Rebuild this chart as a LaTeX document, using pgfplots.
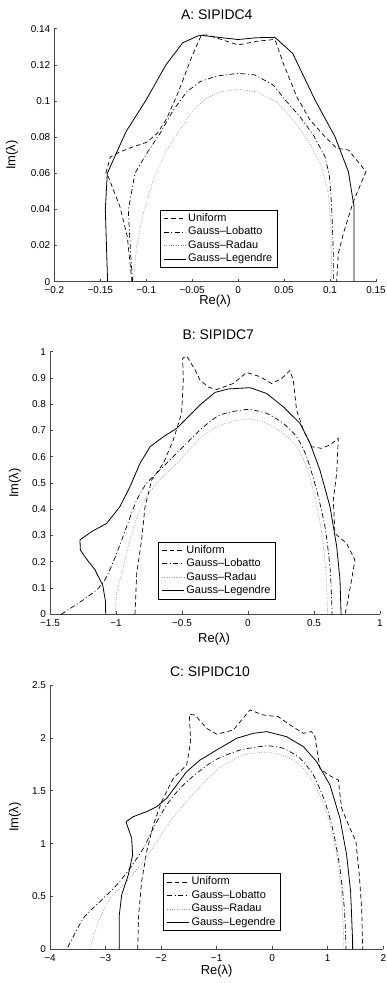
\documentclass[border=0pt]{standalone}
\usepackage{pgfplots}
\pgfplotsset{compat=1.18}
\usepackage{fontspec}
\setmainfont{Liberation Sans}
\definecolor{axgray}{RGB}{70,70,70}
\definecolor{radau}{RGB}{150,150,150}

\pgfplotsset{
  panel/.style={
    scale only axis, anchor=south west,
    axis x line*=bottom, axis y line*=left,
    tick align=inside, major tick length=3bp,
    axis line style={axgray, line width=0.7bp},
    every tick/.style={axgray, line width=0.6bp},
    tick label style={font=\fontsize{10}{11}\selectfont},
    xticklabel style={yshift=-1.5bp},
    yticklabel style={xshift=-0.5bp},
    xlabel={Re(λ)}, ylabel={Im(λ)},
    scaled ticks=false,
    legend cell align=left,
    legend image code/.code={\draw[##1] (0bp,0bp) -- (22bp,0bp);},
    legend style={anchor=north west, draw=black, line width=0.8bp,
       font=\fontsize{11}{12}\selectfont,
       inner xsep=3bp, inner ysep=1.5bp,
       nodes={inner xsep=2bp, inner ysep=1.5bp, text height=8bp, text depth=2.5bp}},
  },
  tpos/.style n args={2}{every axis title/.style={at={(axis description cs:#1,#2)}, anchor=center, font=\fontsize{14}{16}\selectfont}},
  xlpos/.style n args={2}{every axis x label/.style={at={(axis description cs:#1,#2)}, anchor=center, font=\fontsize{13}{15}\selectfont}},
  ylpos/.style n args={2}{every axis y label/.style={at={(axis description cs:#1,#2)}, anchor=center, rotate=90, font=\fontsize{13}{15}\selectfont}},
  uni/.style={black, line width=0.7bp, dash pattern=on 4.5bp off 3bp},
  lob/.style={black, line width=0.7bp, dash pattern=on 5bp off 2.5bp on 1bp off 2.5bp},
  rad/.style={radau, line width=0.7bp, dash pattern=on 0.8bp off 1.6bp},
  leg/.style={black, line width=0.8bp},
}

\begin{document}
\begin{tikzpicture}
\useasboundingbox (0,0) rectangle (387bp,983bp);

% ---------------- A ----------------
\begin{axis}[panel, at={(54.3bp,701.3bp)}, width=321.7bp, height=253bp,
  xmin=-0.2, xmax=0.15, ymin=0, ymax=0.14,
  xtick={-0.2,-0.15,-0.1,-0.05,0,0.05,0.1,0.15},
  xticklabels={−0.2,−0.15,−0.1,−0.05,0,0.05,0.1,0.15},
  ytick={0,0.02,0.04,0.06,0.08,0.1,0.12,0.14},
  yticklabels={0,0.02,0.04,0.06,0.08,0.1,0.12,0.14},
  title={A: SIPIDC4}, tpos={0.505}{1.054},
  xlpos={0.5}{-0.078}, ylpos={-0.1315}{0.5},
  legend style={at={(axis description cs:0.3286,0.2834)}},
]
\addplot[uni] coordinates {(-0.1155,0) (-0.1206,0.025) (-0.1286,0.0415) (-0.1412,0.058) (-0.144,0.06) (-0.139,0.069) (-0.13,0.0715) (-0.115,0.0745) (-0.1,0.077) (-0.088,0.082) (-0.078,0.09) (-0.065,0.105) (-0.05,0.125) (-0.04,0.1365) (-0.033,0.1365) (0,0.131) (0.02,0.133) (0.04,0.1341) (0.0492,0.1208) (0.0637,0.1024) (0.0782,0.0895) (0.0927,0.0812) (0.1072,0.0738) (0.12,0.0729) (0.1391,0.0609) (0.1253,0.0443) (0.1145,0.0267) (0.109,0.0157) (0.1072,0)};
\addlegendentry{Uniform}
\addplot[lob] coordinates {(-0.1148,0) (-0.117,0.0157) (-0.1195,0.0397) (-0.1122,0.06) (-0.0995,0.071) (-0.085,0.082) (-0.0705,0.095) (-0.056,0.105) (-0.0415,0.1107) (-0.0234,0.1138) (0,0.1153) (0.0183,0.1144) (0.0383,0.1088) (0.0528,0.0996) (0.0673,0.0913) (0.0818,0.0812) (0.0945,0.0692) (0.0992,0.059) (0.1018,0.0415) (0.1036,0.0157) (0.1036,0)};
\addlegendentry{Gauss–Lobatto}
\addplot[rad] coordinates {(-0.114,0) (-0.1104,0.0194) (-0.1032,0.0378) (-0.0923,0.0563) (-0.0778,0.0729) (-0.0633,0.0839) (-0.0488,0.095) (-0.0342,0.1015) (-0.0197,0.1051) (0,0.1064) (0.0202,0.1051) (0.0419,0.0996) (0.06,0.0895) (0.0782,0.0765) (0.0909,0.0636) (0.0981,0.0489) (0.101,0.0304) (0.1018,0)};
\addlegendentry{Gauss–Radau}
\addplot[leg] coordinates {(-0.142,0) (-0.1445,0.04) (-0.1423,0.06) (-0.122,0.083) (-0.1002,0.1005) (-0.0785,0.12) (-0.0603,0.1322) (-0.0419,0.1364) (0,0.134) (0.02,0.135) (0.0401,0.1352) (0.0594,0.1263) (0.0837,0.1005) (0.1054,0.0802) (0.12,0.0608) (0.1261,0.0415) (0.1261,0)};
\addlegendentry{Gauss–Legendre}
\end{axis}

% ---------------- B ----------------
\begin{axis}[panel, at={(50bp,368.7bp)}, width=330bp, height=262.6bp,
  xmin=-1.5, xmax=1, ymin=0, ymax=1,
  xtick={-1.5,-1,-0.5,0,0.5,1},
  xticklabels={−1.5,−1,−0.5,0,0.5,1},
  ytick={0,0.1,0.2,0.3,0.4,0.5,0.6,0.7,0.8,0.9,1},
  yticklabels={0,0.1,0.2,0.3,0.4,0.5,0.6,0.7,0.8,0.9,1},
  title={B: SIPIDC7}, tpos={0.51}{1.0636},
  xlpos={0.497}{-0.095}, ylpos={-0.106}{0.5},
  legend style={at={(axis description cs:0.328,0.2765)}},
]
\addplot[uni] coordinates {(-0.856,0) (-0.843,0.156) (-0.806,0.283) (-0.78,0.41) (-0.73,0.511) (-0.641,0.575) (-0.566,0.664) (-0.503,0.765) (-0.49,0.892) (-0.495,0.975) (-0.465,0.984) (-0.4,0.93) (-0.364,0.892) (-0.3,0.865) (-0.237,0.856) (-0.111,0.879) (-0.01,0.921) (0.09,0.905) (0.179,0.879) (0.255,0.898) (0.318,0.928) (0.343,0.892) (0.368,0.778) (0.419,0.702) (0.482,0.638) (0.558,0.632) (0.621,0.645) (0.684,0.67) (0.672,0.537) (0.646,0.435) (0.659,0.308) (0.747,0.27) (0.81,0.207) (0.785,0.131) (0.747,0.029) (0.735,0)};
\addlegendentry{Uniform}
\addplot[lob, smooth, tension=0.4] coordinates {(-1.415,0) (-1.248,0.055) (-1.134,0.099) (-1.071,0.143) (-0.995,0.232) (-0.919,0.334) (-0.843,0.435) (-0.768,0.499) (-0.692,0.537) (-0.591,0.588) (-0.465,0.651) (-0.35,0.708) (-0.212,0.759) (-0.01,0.78) (0.141,0.765) (0.2675,0.727) (0.368,0.676) (0.444,0.6) (0.52,0.473) (0.583,0.334) (0.621,0.181) (0.634,0.055) (0.637,0)};
\addlegendentry{Gauss–Lobatto}
\addplot[rad, smooth, tension=0.4] coordinates {(-1.005,0) (-0.995,0.08) (-0.944,0.181) (-0.894,0.283) (-0.831,0.385) (-0.768,0.448) (-0.692,0.499) (-0.591,0.55) (-0.49,0.6) (-0.364,0.67) (-0.212,0.72) (-0.01,0.744) (0.141,0.727) (0.2675,0.689) (0.368,0.638) (0.444,0.562) (0.507,0.448) (0.558,0.308) (0.591,0.156) (0.603,0)};
\addlegendentry{Gauss–Radau}
\addplot[leg] coordinates {(-1.078,0) (-1.08,0.05) (-1.1,0.11) (-1.16,0.17) (-1.23,0.215) (-1.27,0.245) (-1.273,0.283) (-1.184,0.315) (-1.071,0.346) (-0.97,0.41) (-0.894,0.486) (-0.818,0.575) (-0.742,0.638) (-0.641,0.676) (-0.54,0.708) (-0.465,0.746) (-0.364,0.797) (-0.25,0.845) (-0.15,0.858) (0.015,0.863) (0.141,0.841) (0.2675,0.79) (0.394,0.727) (0.47,0.651) (0.545,0.549) (0.621,0.41) (0.672,0.258) (0.697,0.131) (0.705,0)};
\addlegendentry{Gauss–Legendre}
\end{axis}

% ---------------- C ----------------
\begin{axis}[panel, at={(50bp,33.7bp)}, width=333.3bp, height=264.3bp,
  xmin=-4, xmax=2, ymin=0, ymax=2.5,
  xtick={-4,-3,-2,-1,0,1,2},
  xticklabels={−4,−3,−2,−1,0,1,2},
  ytick={0,0.5,1,1.5,2,2.5},
  yticklabels={0,0.5,1,1.5,2,2.5},
  title={C: SIPIDC10}, tpos={0.48}{1.0503},
  xlpos={0.5}{-0.082}, ylpos={-0.105}{0.5},
  legend style={at={(axis description cs:0.34,0.2876)}},
]
\addplot[uni] coordinates {(-2.422,0) (-2.404,0.325) (-2.35,0.64) (-2.26,0.924) (-2.14,1.176) (-1.99,1.397) (-1.78,1.617) (-1.54,1.743) (-1.468,1.964) (-1.492,2.223) (-1.39,2.216) (-1.18,2.09) (-1.0,2.035) (-0.7,2.074) (-0.4,2.264) (-0.16,2.216) (0.11,2.2) (0.32,2.122) (0.56,2.043) (0.71,2.059) (0.77,2.011) (0.86,1.712) (1.01,1.649) (1.19,1.602) (1.25,1.334) (1.4,1.144) (1.508,1.018) (1.568,0.703) (1.61,0.388) (1.63,0)};
\addlegendentry{Uniform}
\addplot[lob, smooth, tension=0.4] coordinates {(-3.68,0.02) (-3.4,0.293) (-3.1,0.451) (-2.8,0.608) (-2.56,0.766) (-2.32,0.955) (-2.11,1.176) (-1.9,1.365) (-1.66,1.523) (-1.36,1.665) (-1.03,1.79) (-0.58,1.885) (-0.1,1.923) (0.2,1.901) (0.5,1.806) (0.74,1.649) (0.95,1.397) (1.1,1.113) (1.22,0.766) (1.298,0.388) (1.328,0.04) (1.33,0)};
\addlegendentry{Gauss–Lobatto}
\addplot[rad, smooth, tension=0.4] coordinates {(-3.27,0.025) (-3.13,0.26) (-2.92,0.48) (-2.62,0.64) (-2.32,0.83) (-2.08,1.018) (-1.84,1.207) (-1.54,1.397) (-1.24,1.57) (-0.94,1.72) (-0.52,1.838) (-0.1,1.863) (0.26,1.822) (0.56,1.712) (0.8,1.523) (1.01,1.239) (1.16,0.892) (1.25,0.514) (1.285,0.136) (1.29,0)};
\addlegendentry{Gauss–Radau}
\addplot[leg] coordinates {(-2.752,0) (-2.752,0.325) (-2.71,0.514) (-2.59,0.703) (-2.512,0.892) (-2.53,1.05) (-2.632,1.207) (-2.5,1.255) (-2.26,1.302) (-2.08,1.349) (-1.9,1.428) (-1.72,1.554) (-1.54,1.68) (-1.3,1.79) (-1.0,1.885) (-0.64,1.996) (-0.34,2.043) (-0.1,2.059) (0.26,2.011) (0.56,1.917) (0.8,1.775) (1.04,1.554) (1.22,1.239) (1.34,0.892) (1.412,0.545) (1.448,0.073) (1.448,0)};
\addlegendentry{Gauss–Legendre}
\end{axis}
\end{tikzpicture}
\end{document}
